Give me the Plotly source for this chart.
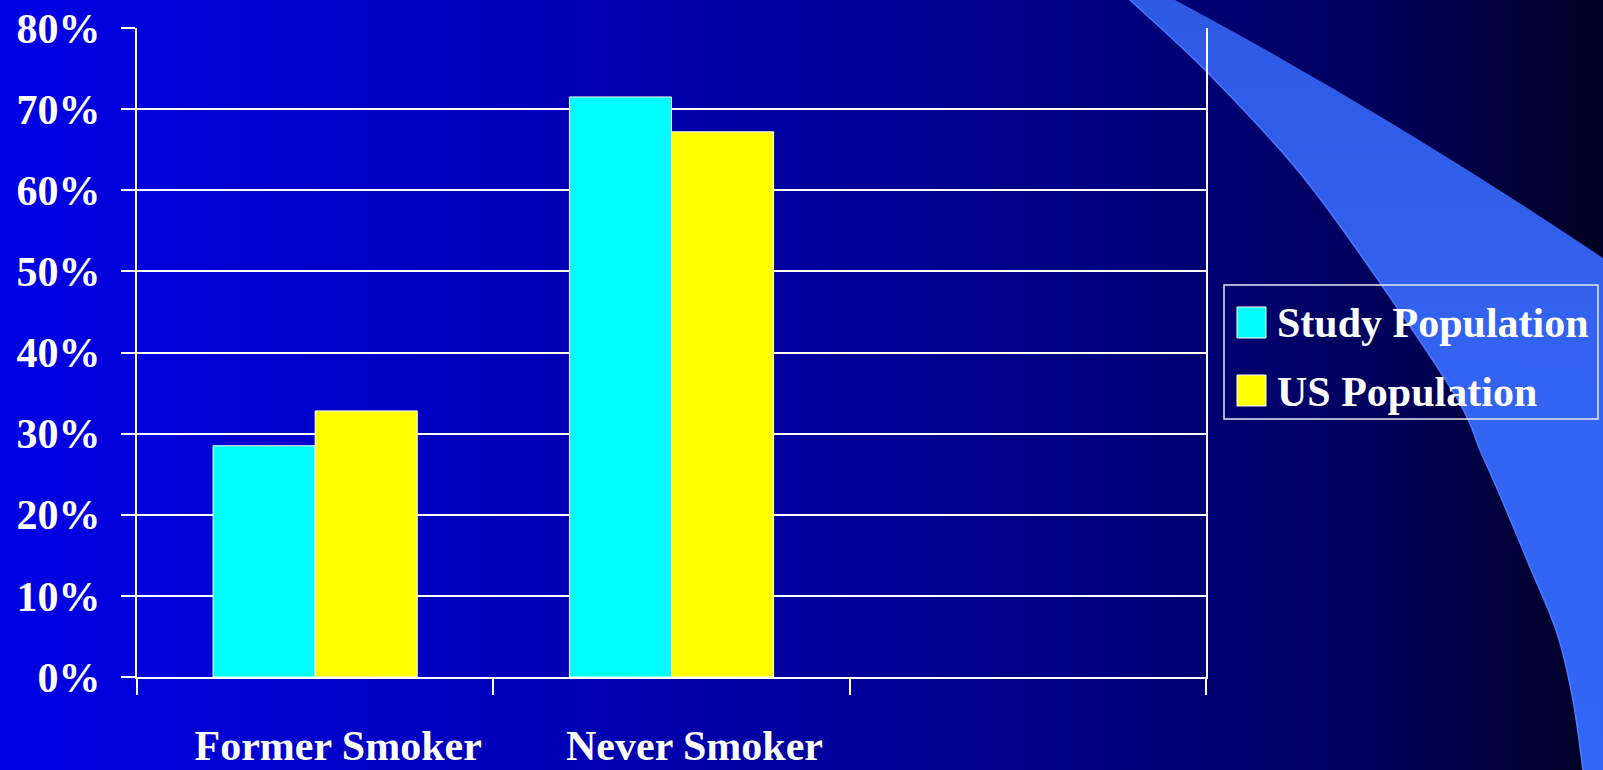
import base64
import plotly.graph_objects as go

# ---- data -------------------------------------------------------------
categories = ["Former Smoker", "Never Smoker", " "]
series_names = ["Study Population", "US Population"]
study_population = [0.285, 0.715, None]
us_population = [0.328, 0.672, None]
y_ticks = [0.0, 0.1, 0.2, 0.3, 0.4, 0.5, 0.6, 0.7, 0.8]

# ---- page geometry (pixels) -------------------------------------------
W, H = 1603, 770
PLOT_L, PLOT_R, PLOT_T, PLOT_B = 137, 1206, 28, 677
PW, PH = PLOT_R - PLOT_L, PLOT_B - PLOT_T

FONT = "Liberation Serif"
CYAN = "#00FFFF"
YELLOW = "#FFFF00"
series_colors = [CYAN, YELLOW]


def px_x(x):
    return (x - PLOT_L) / PW


def px_y(y):
    return (PLOT_B - y) / PH


# ---- slide background: blue gradient with a light-blue swoosh ----------
grad_stops = [(0.0, "#0000E6"), (0.3, "#0000BC"), (0.5, "#00009E"),
              (0.69, "#000080"), (0.87, "#00005A"), (1.0, "#000020")]

curve = [(1583, 770), (1573, 700), (1557, 633), (1530, 567), (1502, 500),
         (1480, 450), (1458, 400), (1383, 287), (1300, 173), (1207, 72),
         (1130, 0)]


def catmull_rom(points):
    segs = []
    n = len(points)
    for i in range(n - 1):
        p0 = points[max(i - 1, 0)]
        p1 = points[i]
        p2 = points[i + 1]
        p3 = points[min(i + 2, n - 1)]
        c1 = (p1[0] + (p2[0] - p0[0]) / 6, p1[1] + (p2[1] - p0[1]) / 6)
        c2 = (p2[0] - (p3[0] - p1[0]) / 6, p2[1] - (p3[1] - p1[1]) / 6)
        segs.append(f"C{c1[0]:.1f},{c1[1]:.1f} {c2[0]:.1f},{c2[1]:.1f} {p2[0]},{p2[1]}")
    return " ".join(segs)


curve_path = catmull_rom(curve)
swoosh = (f"M1175,0 Q1390,115 1603,258 L1603,770 L{curve[0][0]},{curve[0][1]} "
          f"{curve_path} Z")
edge = f"M{curve[0][0]},{curve[0][1]} {curve_path}"

stops_svg = "".join(f'<stop offset="{o}" stop-color="{c}"/>' for o, c in grad_stops)
svg = f'''<svg xmlns="http://www.w3.org/2000/svg" width="{W}" height="{H}" viewBox="0 0 {W} {H}" preserveAspectRatio="none">
<defs>
<linearGradient id="bg" x1="0" y1="0" x2="1" y2="0">{stops_svg}</linearGradient>
<linearGradient id="sw" x1="0" y1="0" x2="0" y2="1">
<stop offset="0" stop-color="#2E59E3"/><stop offset="0.45" stop-color="#3363F0"/><stop offset="1" stop-color="#3366F6"/>
</linearGradient>
</defs>
<rect x="0" y="0" width="{W}" height="{H}" fill="url(#bg)"/>
<path d="{swoosh}" fill="url(#sw)"/>
<path d="{edge}" fill="none" stroke="#4A7CFF" stroke-width="1.5"/>
</svg>'''
bg_uri = "data:image/svg+xml;base64," + base64.b64encode(svg.encode()).decode()

# ---- bars ---------------------------------------------------------------
fig = go.Figure()
for name, vals, color in zip(series_names, [study_population, us_population], series_colors):
    fig.add_trace(go.Bar(
        x=categories, y=vals, name=name,
        marker=dict(color=color, line=dict(color="white", width=1)),
        showlegend=False, hoverinfo="skip",
    ))

# ---- legend box drawn as shapes + text ------------------------------------
LEG_L, LEG_R, LEG_T, LEG_B = 1224, 1598, 285, 419
shapes = [dict(type="rect", xref="paper", yref="paper",
               x0=px_x(LEG_L), x1=px_x(LEG_R), y0=px_y(LEG_B), y1=px_y(LEG_T),
               line=dict(color="#E8E8F0", width=1.5), fillcolor="rgba(0,0,0,0)", layer="above")]
annotations = []
sw_rows = [(307, 338), (375, 406)]
for (top, bot), name, color in zip(sw_rows, series_names, series_colors):
    shapes.append(dict(type="rect", xref="paper", yref="paper",
                       x0=px_x(1237), x1=px_x(1266), y0=px_y(bot), y1=px_y(top),
                       line=dict(color="white", width=1), fillcolor=color, layer="above"))
    annotations.append(dict(xref="paper", yref="paper", x=px_x(1275), y=px_y((top + bot) / 2 + 1),
                            xanchor="left", yanchor="middle", showarrow=False, text=name,
                            font=dict(family=FONT, size=42, color="white", weight="bold")))

fig.update_layout(
    width=W, height=H,
    margin=dict(l=PLOT_L, r=W - PLOT_R, t=PLOT_T, b=H - PLOT_B, pad=0, autoexpand=False),
    paper_bgcolor="#00007A",
    plot_bgcolor="rgba(0,0,0,0)",
    barmode="group",
    bargap=0.427,
    bargroupgap=0,
    font=dict(family=FONT, size=42, color="white", weight="bold"),
    images=[dict(source=bg_uri, xref="paper", yref="paper",
                 x=px_x(0), y=px_y(0), sizex=W / PW, sizey=H / PH,
                 xanchor="left", yanchor="top", sizing="stretch", layer="below")],
    shapes=shapes,
    annotations=annotations,
    showlegend=False,
)

fig.update_xaxes(
    type="category", categoryorder="array", categoryarray=categories,
    range=[-0.5, len(categories) - 0.5], automargin=False,
    showline=True, linecolor="white", linewidth=2,
    showgrid=False, zeroline=False,
    ticks="outside", tickson="boundaries", ticklen=16, tickwidth=2, tickcolor="white",
    ticklabelstandoff=31, ticklabelshift=23,
    tickfont=dict(family=FONT, size=42, color="white", weight="bold"),
)
fig.update_yaxes(
    range=[0, 0.8], tickvals=y_ticks, tickformat=".0%", automargin=False,
    showline=True, linecolor="white", linewidth=2, mirror=True,
    showgrid=True, gridcolor="white", gridwidth=1.5, zeroline=False,
    ticks="outside", ticklen=14, tickwidth=2, tickcolor="white",
    ticklabelstandoff=12,
    tickfont=dict(family=FONT, size=42, color="white", weight="bold"),
)

# the page itself should add no margin or scrollbars around the figure
page_js = ("document.body.style.margin='0';document.body.style.padding='0';"
           "document.documentElement.style.overflow='hidden';"
           "document.body.style.background='#00007A';")

fig.write_html("out.html", post_script=page_js)
